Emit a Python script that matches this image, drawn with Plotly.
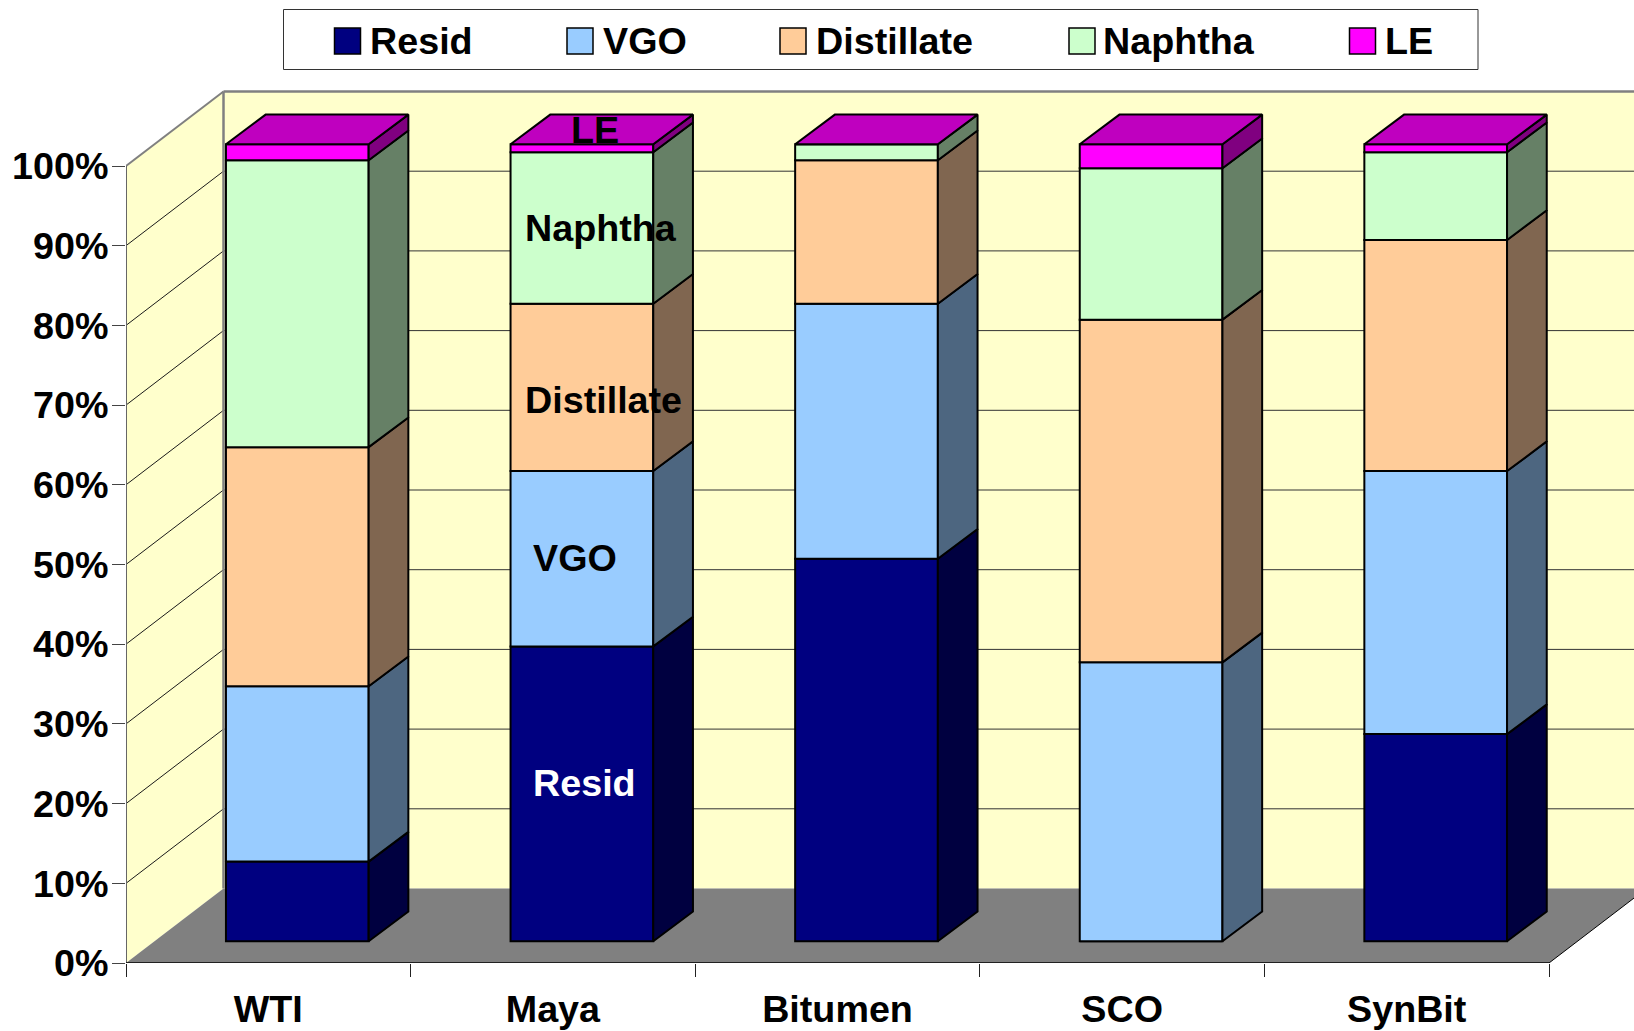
import plotly.graph_objects as go

categories = ["WTI", "Maya", "Bitumen", "SCO", "SynBit"]
series_names = ["Resid", "VGO", "Distillate", "Naphtha", "LE"]
resid = [10, 37, 48, 0, 26]
vgo = [22, 22, 32, 35, 33]
distillate = [30, 21, 18, 43, 29]
naphtha = [36, 19, 2, 19, 11]
le = [2, 1, 0, 3, 1]
y_ticks = list(range(0, 101, 10))
y_tick_labels = [f"{v}%" for v in y_ticks]
colors = ["#000080", "#99CCFF", "#FFCC99", "#CCFFCC", "#FF00FF"]
side_colors = ["#000040", "#4D6680", "#806650", "#668066", "#800080"]
top_color = "#BF00BF"
all_series = [resid, vgo, distillate, naphtha, le]

W, H = 1634, 1031
L, R, T, B = 126, 0, 85, 68
PX_X, PX_Y = 284.6, 7.97
x_max = (W - L - R) / PX_X
y_max = (H - B - T) / PX_Y
WALL_DX, WALL_DY = 97.5 / PX_X, 74.5 / PX_Y
BAR_DX, BAR_DY = 29 / PX_X, 21.7 / PX_Y
DEPTH_DX, DEPTH_DY = 39.7 / PX_X, 29.7 / PX_Y
BAR_W = 142.7 / PX_X
FONT = "Liberation Sans"
FS = 37.7
INK = "#000000"

def path(pts):
    return "M" + " L".join(f"{x:.4f},{y:.4f}" for x, y in pts) + " Z"

def paper(px, py):
    return (px - L) / (W - L - R), (H - B - py) / (H - B - T)

shapes = []
n = len(categories)
# left wall, back wall, floor
shapes.append(dict(type="path", path=path([(0, 0), (WALL_DX, WALL_DY), (WALL_DX, 100 + WALL_DY), (0, 100)]),
                   fillcolor="#FFFFCC", line=dict(width=0), layer="below"))
shapes.append(dict(type="path", path=path([(WALL_DX, WALL_DY), (n + WALL_DX, WALL_DY), (n + WALL_DX, 100 + WALL_DY), (WALL_DX, 100 + WALL_DY)]),
                   fillcolor="#FFFFCC", line=dict(width=0), layer="below"))
shapes.append(dict(type="path", path=path([(0, 0), (WALL_DX, WALL_DY), (n + WALL_DX, WALL_DY), (n, 0)]),
                   fillcolor="#808080", line=dict(width=0), layer="below"))
# gridlines
for v in y_ticks[1:-1]:
    shapes.append(dict(type="line", x0=0, y0=v, x1=WALL_DX, y1=v + WALL_DY, line=dict(color="#1a1a1a", width=1), layer="below"))
    shapes.append(dict(type="line", x0=WALL_DX, y0=v + WALL_DY, x1=n + WALL_DX, y1=v + WALL_DY, line=dict(color="#333333", width=1), layer="below"))
# wall edges
edge = dict(color="#808080", width=2)
shapes.append(dict(type="line", x0=0, y0=100, x1=WALL_DX, y1=100 + WALL_DY, line=edge, layer="below"))
shapes.append(dict(type="line", x0=WALL_DX, y0=100 + WALL_DY, x1=n + WALL_DX, y1=100 + WALL_DY, line=dict(color="#808080", width=2.5), layer="below"))
shapes.append(dict(type="line", x0=WALL_DX, y0=WALL_DY, x1=WALL_DX, y1=100 + WALL_DY, line=dict(color="#808080", width=2.5), layer="below"))
shapes.append(dict(type="line", x0=0, y0=0, x1=0, y1=100, line=dict(color="#666666", width=2), layer="below"))
shapes.append(dict(type="line", x0=0, y0=0, x1=n, y1=0, line=dict(color="#000000", width=1.5), layer="above"))
shapes.append(dict(type="line", x0=n, y0=0, x1=n + WALL_DX, y1=WALL_DY, line=dict(color="#000000", width=1), layer="above"))

fig = go.Figure()
centers = [i + 0.5 for i in range(n)]
bases = [0] * n
outline = dict(color="#000000", width=2)
for name, vals, col, side in zip(series_names, all_series, colors, side_colors):
    fig.add_trace(go.Bar(
        x=[c + BAR_DX for c in centers],
        y=vals,
        base=[b + BAR_DY for b in bases],
        width=BAR_W,
        name=name,
        marker=dict(color=col, line=outline),
        showlegend=False,
    ))
    sx, sy = [], []
    for c, b, v in zip(centers, bases, vals):
        if v == 0:
            continue
        xr = c + BAR_DX + BAR_W / 2
        y0, y1 = b + BAR_DY, b + v + BAR_DY
        sx += [xr, xr + DEPTH_DX, xr + DEPTH_DX, xr, xr, None]
        sy += [y0, y0 + DEPTH_DY, y1 + DEPTH_DY, y1, y0, None]
    fig.add_trace(go.Scatter(x=sx, y=sy, mode="lines", fill="toself", fillcolor=side,
                             line=outline, name=name + " side", showlegend=False, hoverinfo="skip"))
    bases = [b + v for b, v in zip(bases, vals)]

tx, ty = [], []
for c, b in zip(centers, bases):
    xl = c + BAR_DX - BAR_W / 2
    xr = c + BAR_DX + BAR_W / 2
    y = b + BAR_DY
    tx += [xl, xl + DEPTH_DX, xr + DEPTH_DX, xr, xl, None]
    ty += [y, y + DEPTH_DY, y + DEPTH_DY, y, y, None]
fig.add_trace(go.Scatter(x=tx, y=ty, mode="lines", fill="toself", fillcolor=top_color,
                         line=outline, name="Top", showlegend=False, hoverinfo="skip"))

# data labels on Maya
label_font = dict(family=FONT, size=FS, color=INK, weight=700)
annotations = []
for text, x, y, color in [("Resid", 1.609, 22.6, "#FFFFFF"), ("VGO", 1.574, 50.85, INK),
                          ("Distillate", 1.676, 70.6, INK), ("Naphtha", 1.665, 92.2, INK),
                          ("LE", 1.644, 104.5, INK)]:
    annotations.append(dict(text=text, x=x, y=y, xref="x", yref="y", showarrow=False, xshift=1,
                            font={**label_font, "color": color}))

# legend box
bx0, by0 = paper(283.5, 9.5)
bx1, by1 = paper(1478, 69.5)
shapes.append(dict(type="rect", xref="paper", yref="paper", x0=bx0, y0=by0, x1=bx1, y1=by1,
                   fillcolor="#FFFFFF", line=dict(color="#333333", width=1)))
legend_swatch_px = [334.5, 567, 780, 1069, 1349.5]
legend_text_px = [369.5, 603, 816, 1103, 1384.5]
for name, col, sw, tp in zip(series_names, colors, legend_swatch_px, legend_text_px):
    x0, y0 = paper(sw, 28)
    x1, y1 = paper(sw + 26, 54)
    shapes.append(dict(type="rect", xref="paper", yref="paper", x0=x0, y0=y0, x1=x1, y1=y1,
                       fillcolor=col, line=dict(color="#000000", width=1.5)))
    ax, ay = paper(tp, 41)
    annotations.append(dict(text=name, x=ax, y=ay, xref="paper", yref="paper", xanchor="left",
                            yanchor="middle", showarrow=False, xshift=-2, font=label_font))

fig.update_layout(
    width=W, height=H,
    margin=dict(l=L, r=R, t=T, b=B, pad=0, autoexpand=False),
    autosize=False,
    paper_bgcolor="#FFFFFF", plot_bgcolor="#FFFFFF",
    barmode="overlay", showlegend=False,
    shapes=shapes, annotations=annotations,
    xaxis=dict(range=[0, x_max], tickmode="array", tickvals=centers, ticktext=categories,
               ticks="", showgrid=False, zeroline=False, showline=False,
               ticklabelstandoff=20,
               tickfont=dict(family=FONT, size=FS, color=INK, weight=700),
               minor=dict(tickmode="array", tickvals=list(range(n + 1)), ticks="outside",
                          ticklen=13, tickwidth=1, tickcolor="#222222", showgrid=False)),
    yaxis=dict(range=[0, y_max], tickmode="array", tickvals=y_ticks, ticktext=y_tick_labels,
               ticks="outside", ticklen=13, tickwidth=1, tickcolor="#444444",
               showgrid=False, zeroline=False, showline=False, ticklabelstandoff=-4,
               tickfont=dict(family=FONT, size=FS, color=INK, weight=700)),
)
fig.write_html("out.html", config=dict(displayModeBar=False),
               default_width=f"{W}px", default_height=f"{H}px",
               post_script="document.body.style.margin='0';")
